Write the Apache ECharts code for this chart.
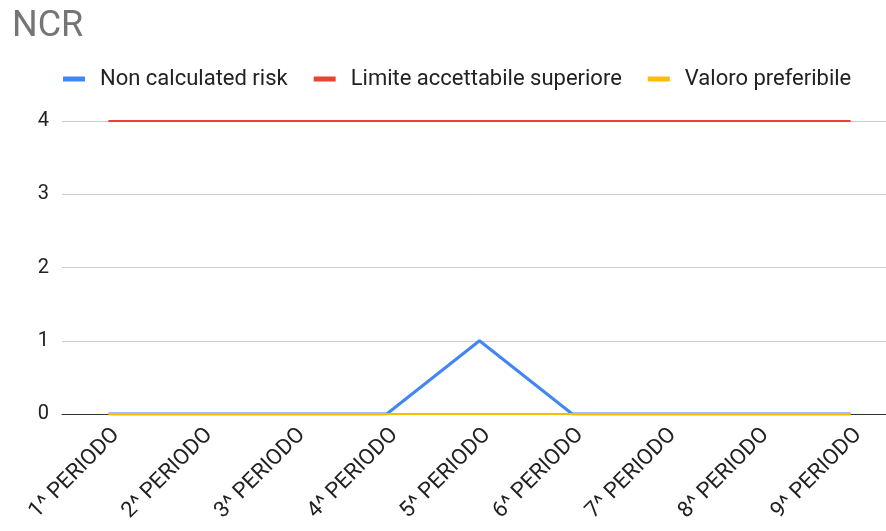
<!DOCTYPE html>
<html>
<head>
<meta charset="utf-8">
<script src="https://cdn.jsdelivr.net/npm/echarts@6/dist/echarts.min.js"></script>
<style>
  html, body { margin: 0; padding: 0; background: #fff; }
  #chart { width: 886px; height: 531px; }
</style>
</head>
<body>
<div id="chart"></div>
<script>
// Periods on the x axis
const periods = ['1^ PERIODO', '2^ PERIODO', '3^ PERIODO', '4^ PERIODO', '5^ PERIODO',
                 '6^ PERIODO', '7^ PERIODO', '8^ PERIODO', '9^ PERIODO'];
// Series values
const nonCalculatedRisk = [0, 0, 0, 0, 1, 0, 0, 0, 0];
const limiteSuperiore   = [4, 4, 4, 4, 4, 4, 4, 4, 4];
const valorePreferibile = [0, 0, 0, 0, 0, 0, 0, 0, 0];
// Y-axis ticks
const yTicks = [0, 1, 2, 3, 4];

const font = 'Roboto, Arial, sans-serif';
const chart = echarts.init(document.getElementById('chart'));
chart.setOption({
  animation: false,
  title: {
    text: 'NCR',
    left: 7, top: 4,
    textStyle: { fontFamily: font, fontSize: 36, fontWeight: 'normal', color: '#757575' }
  },
  legend: {
    top: 63, left: 58,
    itemWidth: 22, itemHeight: 5, itemGap: 26,
    icon: 'rect',
    textStyle: { fontFamily: font, fontSize: 22, color: '#222', padding: [0, 0, 0, 10] },
    data: ['Non calculated risk', 'Limite accettabile superiore', 'Valoro preferibile']
  },
  // plot area runs slightly past the right edge, so the last band is cut off
  grid: { left: 62, right: -11, top: 121, bottom: 117,
          containLabel: false, outerBoundsMode: 'none' },
  xAxis: {
    type: 'category',
    data: periods,
    boundaryGap: true,
    axisLine: { lineStyle: { color: '#333', width: 1 } },
    axisTick: { show: false },
    axisLabel: { rotate: 45, fontFamily: font, fontSize: 22, color: '#222',
                 margin: 10, verticalAlign: 'top' }
  },
  yAxis: {
    type: 'value',
    min: yTicks[0], max: yTicks[yTicks.length - 1], interval: 1,
    axisLine: { show: false },
    axisTick: { show: false },
    axisLabel: { fontFamily: font, fontSize: 20, color: '#222', margin: 13 },
    splitLine: { lineStyle: { color: '#ccc' } }
  },
  series: [
    { name: 'Non calculated risk', type: 'line', data: nonCalculatedRisk,
      color: '#4285f4', showSymbol: false, lineStyle: { width: 3 } },
    { name: 'Limite accettabile superiore', type: 'line', data: limiteSuperiore,
      color: '#ea4335', showSymbol: false, lineStyle: { width: 2 } },
    { name: 'Valoro preferibile', type: 'line', data: valorePreferibile,
      color: '#fbbc04', showSymbol: false, lineStyle: { width: 2 } }
  ]
});
</script>
</body>
</html>
